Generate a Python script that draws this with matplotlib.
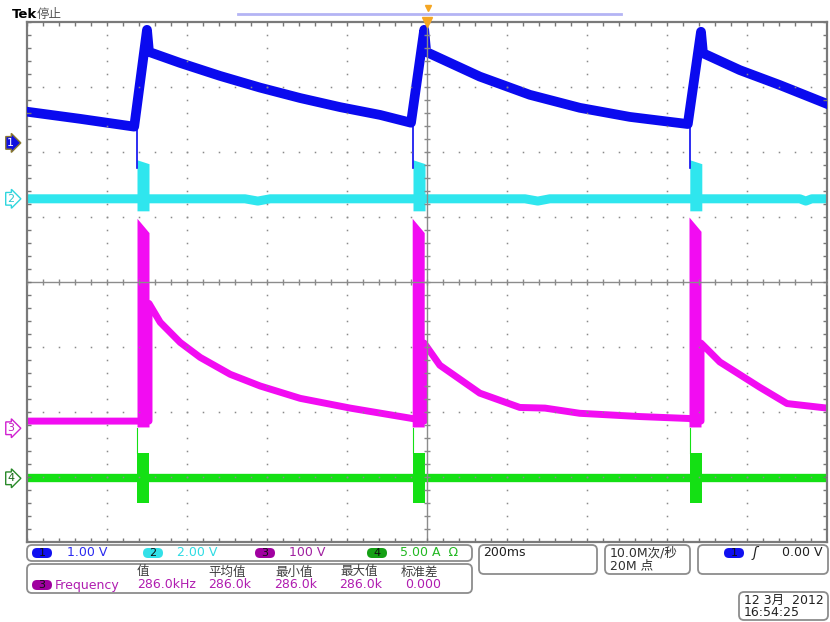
import numpy as np
import matplotlib.pyplot as plt
import matplotlib.transforms as mtransforms
from matplotlib.patches import FancyBboxPatch

plt.rcParams['font.family'] = ['DejaVu Sans', 'Noto Sans CJK SC']

#-------------------------------
# scope settings
#-------------------------------
# time base 200 ms/div, trigger at t = 0, 10 div across
ms_per_div = 200
# channel: scale per div, ground marker position (div from centre)
ch_scale = {1: 1.00, 2: 2.00, 3: 100.0, 4: 5.00}
ch_offset = {1: 2.14, 2: 1.28, 3: -2.25, 4: -3.02}
ch_color = {1: '#0a0aef', 2: '#2fe6ee', 3: '#f20cf2', 4: '#14e014'}

# ch1 (V) - sawtooth-like voltage
ch1_t = [-1000, -867, -732, -700, -695, -617, -517, -417, -317, -217, -117,
         -40, -7, -2, 132, 257, 382, 507, 652, 685, 690, 782, 882, 1000]
ch1_v = [0.48, 0.37, 0.25, 1.74, 1.40, 1.23, 1.03, 0.85, 0.69, 0.55, 0.43,
         0.31, 1.74, 1.40, 1.02, 0.74, 0.54, 0.40, 0.29, 1.71, 1.38, 1.12, 0.89, 0.60]
ch1_spike_t = [-725, -35, 657]
ch1_spike_v = [-0.38, -0.38, -0.38]

# ch2 (V) - baseline with pulses at switching
ch2_t = [-1000, -455, -423, -392, 245, 277, 307, 932, 947, 962, 1000]
ch2_v = [0.0, 0.0, -0.07, 0.0, 0.0, -0.07, 0.0, 0.0, -0.07, 0.0, 0.0]
ch2_pulse_t0 = [-725, -35, 657]
ch2_pulse_t1 = [-695, -5, 687]
ch2_pulse_top = [1.20, 1.20, 1.20]
ch2_pulse_top_end = [1.08, 1.08, 1.08]
ch2_pulse_bot = [-0.37, -0.37, -0.37]

# ch3 (V) - high voltage spike with decay
ch3_t = [-1000, -725, -695, -695, -667, -617, -567, -492, -417, -317, -192, -37,
         -7, -7, 32, 132, 232, 295, 382, 532, 655, 685, 685, 732, 832, 900, 1000]
ch3_v = [11, 11, 11, 192, 163, 132, 109, 83, 65, 46, 31, 15,
         11, 131, 97, 54, 32, 31, 23, 18, 15, 11, 131, 102, 63, 38, 31]
ch3_block_t0 = [-725, -37, 655]
ch3_block_t1 = [-695, -7, 685]
ch3_block_top = [323, 323, 325]
ch3_block_top_end = [301, 301, 303]
ch3_block_bot = [2, 2, 2]

# ch4 (A) - current
ch4_t = [-1000, 1000]
ch4_v = [0.0, 0.0]
ch4_block_t0 = [-725, -35, 657]
ch4_block_t1 = [-695, -5, 687]
ch4_block_top = [1.92, 1.92, 1.92]
ch4_block_bot = [-1.92, -1.92, -1.92]
ch4_lead_top = [3.9, 3.9, 3.9]


def to_div(ch, vals):
	return np.asarray(vals, dtype=float) / ch_scale[ch] + ch_offset[ch]


W, H = 830, 622
fig = plt.figure(figsize=(W / 100, H / 100), dpi=100)
fig.patch.set_facecolor('white')

# graticule area in pixels: x 27..827, y 22..542
ax = fig.add_axes([27 / W, 1 - 542 / H, 800 / W, 520 / H])
ax.set_xlim(-5 * ms_per_div, 5 * ms_per_div)
ax.set_ylim(-4, 4)
ax.set_xticks([])
ax.set_yticks([])
for sp in ax.spines.values():
	sp.set_color('#7a7a7a')
	sp.set_linewidth(1.6)

# ---- traces
ax.plot(ch1_t, to_div(1, ch1_v), color=ch_color[1], lw=7, solid_joinstyle='round', zorder=3)
for t, v in zip(ch1_spike_t, ch1_spike_v):
	ax.plot([t, t], to_div(1, [0.25, v]), color=ch_color[1], lw=1.2, zorder=3)

ax.plot(ch2_t, to_div(2, ch2_v), color=ch_color[2], lw=6.5, zorder=2)
for t0, t1, top, top2, bot in zip(ch2_pulse_t0, ch2_pulse_t1, ch2_pulse_top,
								  ch2_pulse_top_end, ch2_pulse_bot):
	ax.fill_between([t0, t1], to_div(2, [bot, bot]), to_div(2, [top, top2]),
					color=ch_color[2], lw=0, zorder=2)

ax.plot(ch3_t, to_div(3, ch3_v), color=ch_color[3], lw=5, solid_joinstyle='round', zorder=2)
for t0, t1, top, top2, bot in zip(ch3_block_t0, ch3_block_t1, ch3_block_top,
								  ch3_block_top_end, ch3_block_bot):
	ax.fill_between([t0, t1], to_div(3, [bot, bot]), to_div(3, [top, top2]),
					color=ch_color[3], lw=0, zorder=2)

ax.plot(ch4_t, to_div(4, ch4_v), color=ch_color[4], lw=6, zorder=2)
for t0, t1, top, bot, lead in zip(ch4_block_t0, ch4_block_t1, ch4_block_top,
								  ch4_block_bot, ch4_lead_top):
	ax.fill_between([t0, t1], to_div(4, [bot, bot]), to_div(4, [top, top]),
					color=ch_color[4], lw=0, zorder=2)
	ax.plot([t0, t0], to_div(4, [top, lead]), color=ch_color[4], lw=0.8, zorder=2)

# ---- graticule
grid_c = '#8a8a8a'
minor_x = np.arange(-1000, 1001, 40)
minor_y = np.arange(-4, 4.01, 0.2)
for gx in range(-800, 801, 200):
	if gx != 0:
		ax.plot(np.full(len(minor_y), gx), minor_y, ls='none', marker='s', ms=1.1,
				color=grid_c, mew=0, zorder=4)
for gy in range(-3, 4):
	if gy != 0:
		ax.plot(minor_x, np.full(len(minor_x), gy), ls='none', marker='s', ms=1.1,
				color=grid_c, mew=0, zorder=4)
ax.axhline(0, color='#8c8c8c', lw=1, zorder=4)
ax.axvline(0, color='#8c8c8c', lw=1, zorder=4)
ax.plot(minor_x, np.zeros(len(minor_x)), ls='none', marker='|', ms=5, mew=1, color=grid_c, zorder=4)
ax.plot(np.zeros(len(minor_y)), minor_y, ls='none', marker='_', ms=5, mew=1, color=grid_c, zorder=4)
for ey in (-4, 4):
	ax.plot(minor_x, np.full(len(minor_x), ey), ls='none', marker='|', ms=6, mew=1, color='#777', zorder=4)
for ex in (-1000, 1000):
	ax.plot(np.full(len(minor_y), ex), minor_y, ls='none', marker='_', ms=6, mew=1, color='#777', zorder=4)

# trigger position marker on top edge
ax.plot([0], [4], marker='v', ms=7, color='#f5a623', clip_on=False, zorder=5)

# ---- channel ground markers
blend = mtransforms.blended_transform_factory(ax.transAxes, ax.transData)
marker_style = {
	1: dict(fc='#1010e0', ec='#8a7a30', tc='white'),
	2: dict(fc='white', ec='#2fd6de', tc='#2fc6ce'),
	3: dict(fc='white', ec='#d020d0', tc='#c020c0'),
	4: dict(fc='white', ec='#2a8a2a', tc='#1a6a1a'),
}
for ch in (1, 2, 3, 4):
	st = marker_style[ch]
	ax.text(-0.0205, ch_offset[ch], str(ch), transform=blend, ha='center', va='center',
			fontsize=8, color=st['tc'], clip_on=False, zorder=6,
			bbox=dict(boxstyle='rarrow,pad=0.12', fc=st['fc'], ec=st['ec'], lw=1))

# ---- overlay for header and readouts (pixel coordinates)
oax = fig.add_axes([0, 0, 1, 1])
oax.set_xlim(0, W)
oax.set_ylim(H, 0)
oax.axis('off')
oax.patch.set_alpha(0)

oax.text(12, 14, 'Tek', fontsize=9.5, fontweight='bold', va='center', color='black')
oax.text(37, 14, '停止', fontsize=9, va='center', color='#555555')
oax.plot([238, 621], [14, 14], color='#b4b4f4', lw=2)
oax.plot([428], [8], marker='v', ms=4.5, color='#f5a623')


def box(x0, y0, x1, y1):
	oax.add_patch(FancyBboxPatch((x0, y0), x1 - x0, y1 - y0,
								 boxstyle='round,pad=0,rounding_size=5',
								 fc='white', ec='#8c8c8c', lw=1.3))


def badge(xc, yc, label, fc, tc='#101010'):
	oax.add_patch(FancyBboxPatch((xc - 10, yc - 5), 20, 10,
								 boxstyle='round,pad=0,rounding_size=5',
								 fc=fc, ec='none'))
	oax.text(xc, yc + 0.5, label, fontsize=8, ha='center', va='center', color=tc)


fs = 9
box(27, 545, 472, 561)
badge(42, 553, '1', '#1010f0')
oax.text(67, 553, '1.00 V', fontsize=fs, va='center', color='#2a2af0')
badge(153, 553, '2', '#33e0e8')
oax.text(177, 553, '2.00 V', fontsize=fs, va='center', color='#30dce4')
badge(265, 553, '3', '#a000a0')
oax.text(289, 553, '100 V', fontsize=fs, va='center', color='#a020a0')
badge(377, 553, '4', '#14a014')
oax.text(400, 553, '5.00 A  Ω', fontsize=fs, va='center', color='#22b822')

box(27, 564, 472, 593)
headers = ['值', '平均值', '最小值', '最大值', '标准差']
header_x = [137, 208, 275, 340, 401]
values = ['286.0kHz', '286.0k', '286.0k', '286.0k', '0.000']
value_x = [137, 208, 274, 339, 405]
for hx, h in zip(header_x, headers):
	oax.text(hx, 572, h, fontsize=fs, va='center', color='#404040')
for vx, v in zip(value_x, values):
	oax.text(vx, 585, v, fontsize=fs, va='center', color='#b01cb0')
badge(42, 585, '3', '#a000a0')
oax.text(55, 585, 'Frequency', fontsize=fs, va='center', color='#b01cb0')

box(479, 545, 597, 574)
oax.text(483, 553, '200ms', fontsize=fs, va='center', color='#202020')

box(605, 545, 690, 574)
oax.text(610, 553, '10.0M次/秒', fontsize=fs, va='center', color='#303030')
oax.text(610, 566, '20M 点', fontsize=fs, va='center', color='#303030')

box(698, 545, 828, 574)
badge(734, 553, '1', '#1010f0')
oax.text(753, 553, 'ʃ', fontsize=fs + 1, va='center', color='#202020', style='italic')
oax.text(782, 553, '0.00 V', fontsize=fs, va='center', color='#202020')

box(739, 592, 828, 620)
oax.text(744, 600, '12 3月  2012', fontsize=fs, va='center', color='#202020')
oax.text(744, 613, '16:54:25', fontsize=fs, va='center', color='#202020')

fig.savefig('out.png', dpi=100)
